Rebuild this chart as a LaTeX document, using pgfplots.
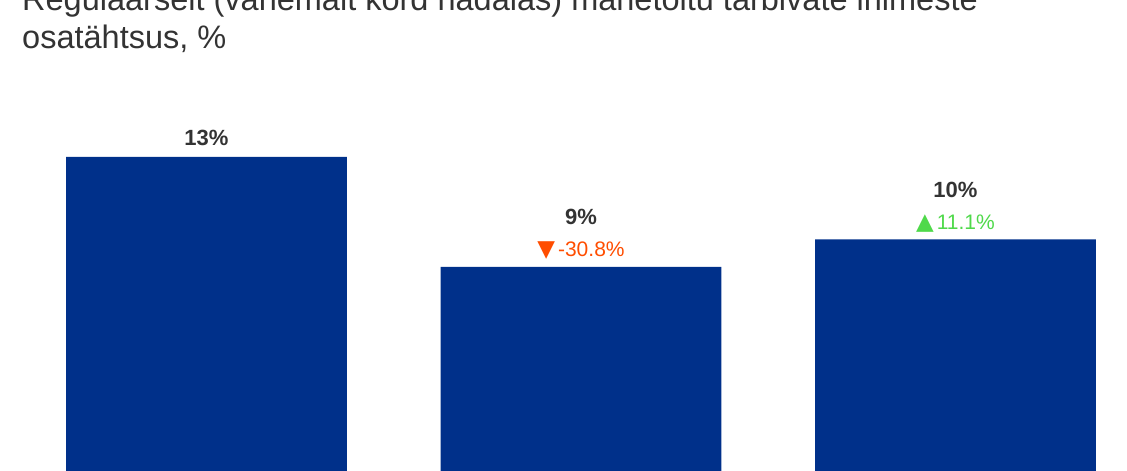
\documentclass[border=0pt]{standalone}
\usepackage{pgfplots}
\pgfplotsset{compat=1.18}
\usepackage{fontspec}
\setmainfont{Liberation Sans}
\newfontfamily\symfont{DejaVu Sans}
\definecolor{barblue}{HTML}{00308A}
\definecolor{txt}{HTML}{333333}
\definecolor{downc}{HTML}{FF4D00}
\definecolor{upc}{HTML}{4FD94A}
\begin{document}
\begin{tikzpicture}
\useasboundingbox (0,0) rectangle (1127pt,471pt);
\clip (0,0) rectangle (1127pt,471pt);
\begin{axis}[
  at={(0,0)}, anchor=south west,
  scale only axis, width=1127pt, height=471pt,
  xmin=-0.5514, xmax=2.458,
  ymin=1.582, ymax=18.709,
  hide axis,
  ybar, bar width=0.75,
]
\addplot[fill=barblue, draw=none] coordinates {(0,13) (1,9) (2,10)};
\node[anchor=base, text=txt, font=\bfseries\fontsize{22}{26}\selectfont] at ([yshift=11pt]axis cs:0,13) {13\%};
\node[anchor=base, text=txt, font=\bfseries\fontsize{22}{26}\selectfont] at ([yshift=42pt]axis cs:1,9) {9\%};
\node[anchor=base, text=downc, font=\fontsize{21}{25}\selectfont] at ([yshift=10pt]axis cs:1,9) {{\symfont\fontsize{23}{25}\selectfont ▼}\hspace{3pt}-30.8\%};
\node[anchor=base, text=txt, font=\bfseries\fontsize{22}{26}\selectfont] at ([yshift=42pt]axis cs:2,10) {10\%};
\node[anchor=base, text=upc, font=\fontsize{21}{25}\selectfont] at ([yshift=10pt]axis cs:2,10) {{\symfont\fontsize{23}{25}\selectfont ▲}\hspace{3pt}11.1\%};
\end{axis}
\node[anchor=base west, inner sep=0pt, text=txt, font=\fontsize{32.5}{38}\selectfont] at (22pt,460pt) {Regulaarselt (vähemalt kord nädalas) mahetoitu tarbivate inimeste};
\node[anchor=base west, inner sep=0pt, text=txt, font=\fontsize{32.5}{38}\selectfont] at (22pt,422pt) {osatähtsus, \%};
\end{tikzpicture}
\end{document}
